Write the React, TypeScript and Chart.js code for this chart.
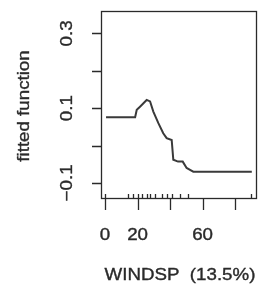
import React, { useEffect, useRef } from "react";
import { Chart, registerables } from "chart.js";

Chart.register(...registerables);

const windsp = [0.6, 18.5, 19.5, 21.5, 25.6, 27.7, 29.7, 32.8, 35.8, 37.9, 41.0, 42.0, 44.9, 47.8, 50.2, 52.3, 54.3, 90.3];
const fitted = [0.076, 0.076, 0.0955, 0.104, 0.122, 0.118, 0.091, 0.06, 0.033, 0.02, 0.015, -0.038, -0.043, -0.043, -0.06, -0.065, -0.07, -0.07];
const rugValues = [0, 14.4, 17.4, 20, 22.6, 25.6, 27.7, 30.8, 34.9, 37.9, 41, 46.2, 51.3, 90];
const xTicks = [0, 20, 40, 60, 80];
const xTickLabels = ["0", "20", "", "60", ""];
const yTicks = [-0.1, 0, 0.1, 0.2, 0.3];
const yTickLabels = ["\u22120.1", "", "0.1", "", "0.3"];
const xTitle = "WINDSP  (13.5%)";
const yTitle = "fitted function";

const INK = "#2a2a2a";
const FONT = '16px "Liberation Sans", Arial, sans-serif';
const STRETCH = 1.17;

function drawText(ctx: CanvasRenderingContext2D, text: string, x: number, y: number, rot: number) {
  ctx.save();
  ctx.translate(x, y);
  ctx.rotate(rot);
  ctx.scale(STRETCH, 1);
  ctx.lineWidth = 0.35;
  ctx.strokeText(text, 0, 0);
  ctx.fillText(text, 0, 0);
  ctx.restore();
}

const axesPlugin = {
  id: "rAxes",
  afterDraw(chart: any) {
    const ctx: CanvasRenderingContext2D = chart.ctx;
    const { left, right, top, bottom } = chart.chartArea;
    const xs = chart.scales.x;
    const ys = chart.scales.y;
    ctx.save();
    ctx.strokeStyle = INK;
    ctx.fillStyle = INK;
    ctx.lineWidth = 1.3;
    ctx.strokeRect(left + 0.5, top + 0.5, right - left - 1, bottom - top - 1);
    ctx.beginPath();
    yTicks.forEach((v) => {
      const py = Math.round(ys.getPixelForValue(v)) + 0.5;
      ctx.moveTo(left - 9, py);
      ctx.lineTo(left, py);
    });
    xTicks.forEach((v) => {
      const px = Math.round(xs.getPixelForValue(v)) + 0.5;
      ctx.moveTo(px, bottom - 1);
      ctx.lineTo(px, bottom + 11);
    });
    rugValues.forEach((v) => {
      const px = Math.round(xs.getPixelForValue(v)) + 0.5;
      ctx.moveTo(px, bottom - 5);
      ctx.lineTo(px, bottom);
    });
    ctx.stroke();

    ctx.font = FONT;
    ctx.textAlign = "center";
    ctx.textBaseline = "alphabetic";
    xTicks.forEach((v, i) => {
      const lbl = xTickLabels[i];
      if (!lbl) return;
      drawText(ctx, lbl, xs.getPixelForValue(v), 240, 0);
    });
    yTicks.forEach((v, i) => {
      const lbl = yTickLabels[i];
      if (!lbl) return;
      drawText(ctx, lbl, 72, ys.getPixelForValue(v), -Math.PI / 2);
    });
    drawText(ctx, xTitle, (left + right) / 2 + 1, 280, 0);
    drawText(ctx, yTitle, 29, (top + bottom) / 2 + 1, -Math.PI / 2);
    ctx.restore();
  },
};

export default function App() {
  const ref = useRef<HTMLCanvasElement | null>(null);
  useEffect(() => {
    if (!ref.current) return;
    const chart = new Chart(ref.current, {
      type: "scatter",
      data: {
        datasets: [
          {
            data: windsp.map((x, i) => ({ x, y: fitted[i] })),
            showLine: true,
            borderColor: "#3a3a3a",
            borderWidth: 2,
            pointRadius: 0,
            tension: 0,
          },
        ],
      },
      options: {
        responsive: false,
        animation: false,
        layout: { padding: { left: 101, right: 1, top: 11, bottom: 95 } },
        plugins: { legend: { display: false }, tooltip: { enabled: false } },
        scales: {
          x: { type: "linear", min: -2.5, max: 93.5, display: false },
          y: { type: "linear", min: -0.143, max: 0.36, display: false },
        },
      },
      plugins: [axesPlugin],
    });
    return () => chart.destroy();
  }, []);
  return (
    <div style={{ position: "absolute", left: 0, top: 0, width: 258, height: 294, background: "#fff" }}>
      <canvas ref={ref} width={258} height={294} />
    </div>
  );
}
